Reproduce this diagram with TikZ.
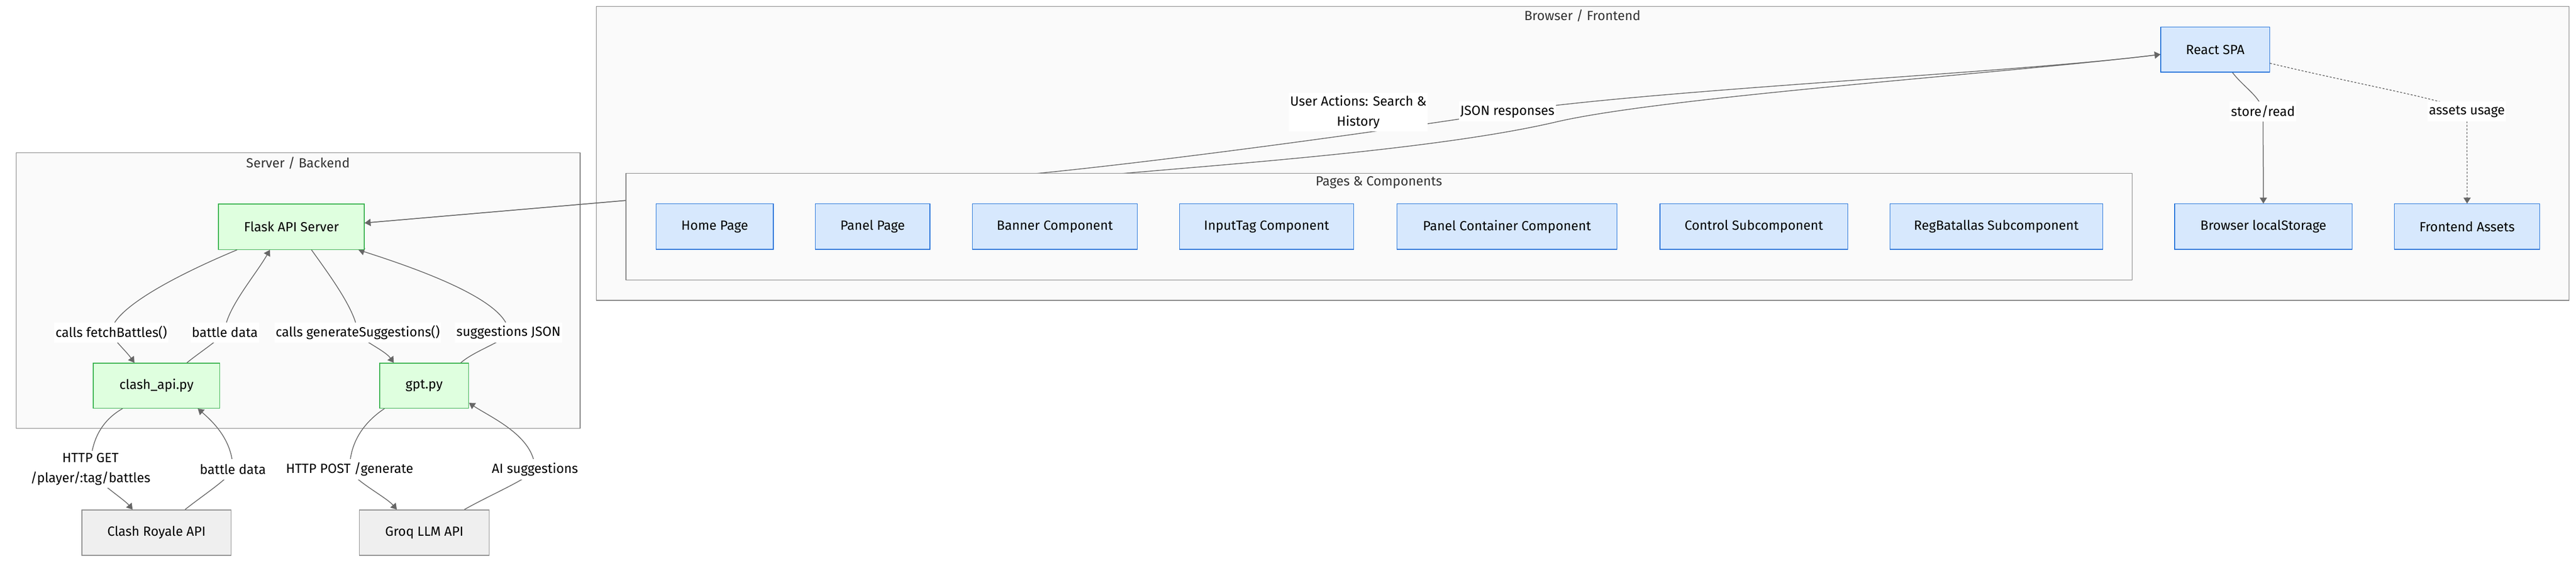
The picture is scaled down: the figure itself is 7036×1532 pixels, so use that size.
\documentclass[tikz,border=0pt]{standalone}
\usepackage{fontspec}
\setmainfont{Fira Sans}
\usetikzlibrary{arrows.meta,positioning}
\definecolor{clFill}{HTML}{FAFAFA}
\definecolor{clLine}{HTML}{7F7F7F}
\definecolor{blueFill}{HTML}{D7E8FD}
\definecolor{blueLine}{HTML}{1C6ED8}
\definecolor{greenFill}{HTML}{DFFFDF}
\definecolor{greenLine}{HTML}{34B04A}
\definecolor{greyFill}{HTML}{EFEFEF}
\definecolor{greyLine}{HTML}{8C8C8C}
\definecolor{edgeGray}{HTML}{666666}
\definecolor{titleText}{HTML}{333333}
\pgfdeclarelayer{back}
\pgfdeclarelayer{edges}
\pgfsetlayers{back,edges,main}

\begin{document}
\begin{tikzpicture}[x=0.01cm, y=-0.01cm,
        every node/.style={font=\fontsize{10.3}{15.6}\selectfont},
        box/.style={draw, line width=0.55pt, minimum height=1.24cm, inner sep=0pt},
        web/.style={box, fill=blueFill, draw=blueLine},
        srv/.style={box, fill=greenFill, draw=greenLine},
        ext/.style={box, fill=greyFill, draw=greyLine},
        cluster/.style={draw=clLine, fill=clFill, line width=0.55pt, inner sep=0pt},
        ctitle/.style={text=titleText},
        lbl/.style={fill=white, inner xsep=1pt, inner ysep=2pt, align=center, minimum height=0.55cm},
        flow/.style={draw=edgeGray, line width=0.6pt, -{Triangle[length=4.6pt,width=5.6pt]}},
        dotflow/.style={flow, dash pattern=on 1.5pt off 1.3pt}]
    \useasboundingbox (0,0) rectangle (7036,1532);

    \begin{pgfonlayer}{back}
        \fill[white] (0,0) rectangle (7036,1532);
        \node (browser) at (4322.5,419) [cluster, minimum width=53.85cm, minimum height=8.02cm] {};
        \node (server) at (814.5,793.5) [cluster, minimum width=15.39cm, minimum height=7.53cm] {};
    \end{pgfonlayer}
    \node (browserTitle) at (4322,43) [ctitle] {Browser / Frontend};
    \node (serverTitle) at (814,445) [ctitle] {Server / Backend};

    \node (pages) at (3766.5,619.5) [cluster, minimum width=41.11cm, minimum height=2.91cm] {};
    \node (pagesTitle) at (3766,499) [ctitle] {Pages \& Components};

    \node (react) at (6050.5,135.5) [web, minimum width=2.97cm, minimum height=1.23cm] {React SPA};
    \node (home) at (1952,619) [web, minimum width=3.20cm] {Home Page};
    \node (panelPage) at (2383.5,619) [web, minimum width=3.13cm] {Panel Page};
    \node (banner) at (2881,619) [web, minimum width=4.50cm] {Banner Component};
    \node (inputTag) at (3459.5,619) [web, minimum width=4.75cm] {InputTag Component};
    \node (panelCont) at (4116,619) [web, minimum width=6.00cm] {Panel Container Component};
    \node (control) at (4790.5,619) [web, minimum width=5.13cm] {Control Subcomponent};
    \node (regBat) at (5452.5,619) [web, minimum width=5.81cm] {RegBatallas Subcomponent};
    \node (storage) at (6182,619) [web, minimum width=4.84cm] {Browser localStorage};
    \node (assets) at (6738.5,619) [web, minimum width=3.97cm] {Frontend Assets};

    \node (flask) at (796,619.5) [srv, minimum width=3.98cm] {Flask API Server};
    \node (clashpy) at (427.5,1053.5) [srv, minimum width=3.45cm, minimum height=1.23cm] {clash\_api.py};
    \node (gptpy) at (1158.5,1053.5) [srv, minimum width=2.43cm, minimum height=1.23cm] {gpt.py};
    \node (royale) at (427.5,1455) [ext, minimum width=4.07cm] {Clash Royale API};
    \node (groq) at (1159,1455) [ext, minimum width=3.54cm] {Groq LLM API};

    \node (tFetch) at (304,908) [lbl] {calls fetchBattles()};
    \node (tData) at (614,908) [lbl] {battle data};
    \node (tGen) at (977,908) [lbl] {calls generateSuggestions()};
    \node (tSugg) at (1389,908) [lbl] {suggestions JSON};
    \node (tGet) at (247,1282) [lbl] {HTTP GET\\/player/:tag/battles};
    \node (tData2) at (636,1282) [lbl] {battle data};
    \node (tPost) at (955,1282) [lbl] {HTTP POST /generate};
    \node (tAI) at (1461,1282) [lbl] {AI suggestions};
    \node (tUser) at (3710,306) [lbl] {User Actions: Search \&\\History};
    \node (tJson) at (4117,305) [lbl] {JSON responses};
    \node (tStore) at (6181,305) [lbl] {store/read};
    \node (tAssets) at (6738,305) [lbl] {assets usage};

    \begin{pgfonlayer}{edges}
        \draw[flow] (flask.203) .. controls +(-180,75) and +(0,-60) .. (tFetch.center) .. controls +(0,15) and +(-25,-35) .. (clashpy.134);
        \draw[flow] (clashpy.37) .. controls +(30,-25) and +(-15,20) .. (tData.center) .. controls +(0,-60) and +(-40,70) .. (flask.227);
        \draw[flow] (flask.311) .. controls +(50,70) and +(-5,-60) .. (tGen.center) .. controls +(5,20) and +(-25,-35) .. (gptpy.143);
        \draw[flow] (gptpy.32) .. controls +(40,-35) and +(-10,25) .. (tSugg.center) .. controls +(0,-90) and +(140,45) .. (flask.341);
        \draw[flow] (clashpy.214) .. controls +(-70,40) and +(0,-60) .. (tGet.center) .. controls +(10,30) and +(-25,-30) .. (royale.136);
        \draw[flow] (royale.39) .. controls +(50,-40) and +(-10,25) .. (tData2.center) .. controls +(0,-80) and +(40,35) .. (clashpy.331);
        \draw[flow] (gptpy.210) .. controls +(-60,40) and +(0,-70) .. (tPost.center) .. controls +(10,30) and +(-30,-35) .. (groq.140);
        \draw[flow] (groq.30) .. controls +(70,-40) and +(-15,25) .. (tAI.center) .. controls +(0,-90) and +(60,40) .. (gptpy.339);

        \draw[flow] (flask.3) -- (pages.178.3) .. controls +(300,-21) and +(-300,30) .. (pages.171.5) .. controls +(400,-40) and +(-250,40) .. (tJson.center) .. controls +(400,-60) and +(-400,50) .. (react.185);
        \draw[flow] (react.185) .. controls +(-400,50) and +(300,-70) .. (tJson.south east) .. controls +(-300,70) and +(350,-30) .. (pages.168.1) .. controls +(-350,30) and +(300,-20) .. (pages.178.5) -- (flask.3);
        \draw[flow] (react.307) .. controls +(30,40) and +(-5,-40) .. (tStore.center) .. controls +(0,60) and +(0,-100) .. (storage.north);
        \draw[dotflow] (react.346) .. controls +(250,60) and +(-40,-30) .. (tAssets.center) .. controls +(0,80) and +(0,-100) .. (assets.north);
    \end{pgfonlayer}
\end{tikzpicture}
\end{document}
